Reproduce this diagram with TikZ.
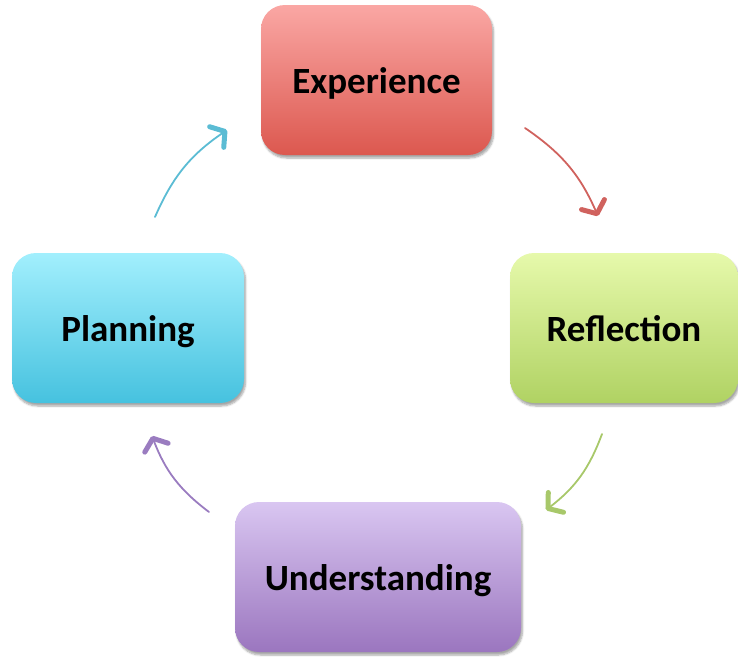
\documentclass[tikz,border=0pt]{standalone}
\usepackage{fontspec}
\setmainfont{Carlito}
\usetikzlibrary{arrows.meta,shadows.blur}
\definecolor{redT}{HTML}{FAA7A4}
\definecolor{redB}{HTML}{DC584F}
\definecolor{grnT}{HTML}{E6F9AB}
\definecolor{grnB}{HTML}{B0D263}
\definecolor{cyaT}{HTML}{A2EFFD}
\definecolor{cyaB}{HTML}{46C2DF}
\definecolor{purT}{HTML}{D9C6F1}
\definecolor{purB}{HTML}{9B76BF}
\definecolor{redA}{HTML}{D0625E}
\definecolor{grnA}{HTML}{A8C86A}
\definecolor{cyaA}{HTML}{5BBCD4}
\definecolor{purA}{HTML}{9A7CC0}
\tikzset{
  stagebox/.style={rounded corners=24pt, minimum height=150pt, inner sep=0pt,
    text height=30pt, text depth=4pt,
    font=\fontsize{37}{44}\selectfont\bfseries,
    blur shadow={shadow xshift=1.5pt, shadow yshift=-3pt, shadow blur steps=6, shadow opacity=35}},
  cyc/.style={line width=1.8pt, line cap=round,
    -{Straight Barb[length=10pt,width=25pt,line width=5pt,round]}, bend left=16}
}
\begin{document}
\begin{tikzpicture}[x=1pt,y=-1pt]
\useasboundingbox (0,0) rectangle (738,657);
\node[stagebox, minimum width=231pt, top color=redT, bottom color=redB] (exp) at (376.5,80) {Experience};
\node[stagebox, minimum width=228pt, top color=grnT, bottom color=grnB] (ref) at (624,328) {Reflection};
\node[stagebox, minimum width=232pt, top color=cyaT, bottom color=cyaB] (pla) at (128,328) {Planning};
\node[stagebox, minimum width=286pt, top color=purT, bottom color=purB] (und) at (378,577) {Understanding};
\coordinate (r1) at (525,128);
\coordinate (r2) at (598,216);
\coordinate (g1) at (602,434);
\coordinate (g2) at (546,510);
\coordinate (p1) at (209,512);
\coordinate (p2) at (152,436);
\coordinate (c1) at (155,217);
\coordinate (c2) at (227,130);
\draw[cyc, draw=redA] (r1) to (r2);
\draw[cyc, draw=grnA] (g1) to (g2);
\draw[cyc, draw=purA] (p1) to (p2);
\draw[cyc, draw=cyaA] (c1) to (c2);
\end{tikzpicture}
\end{document}
